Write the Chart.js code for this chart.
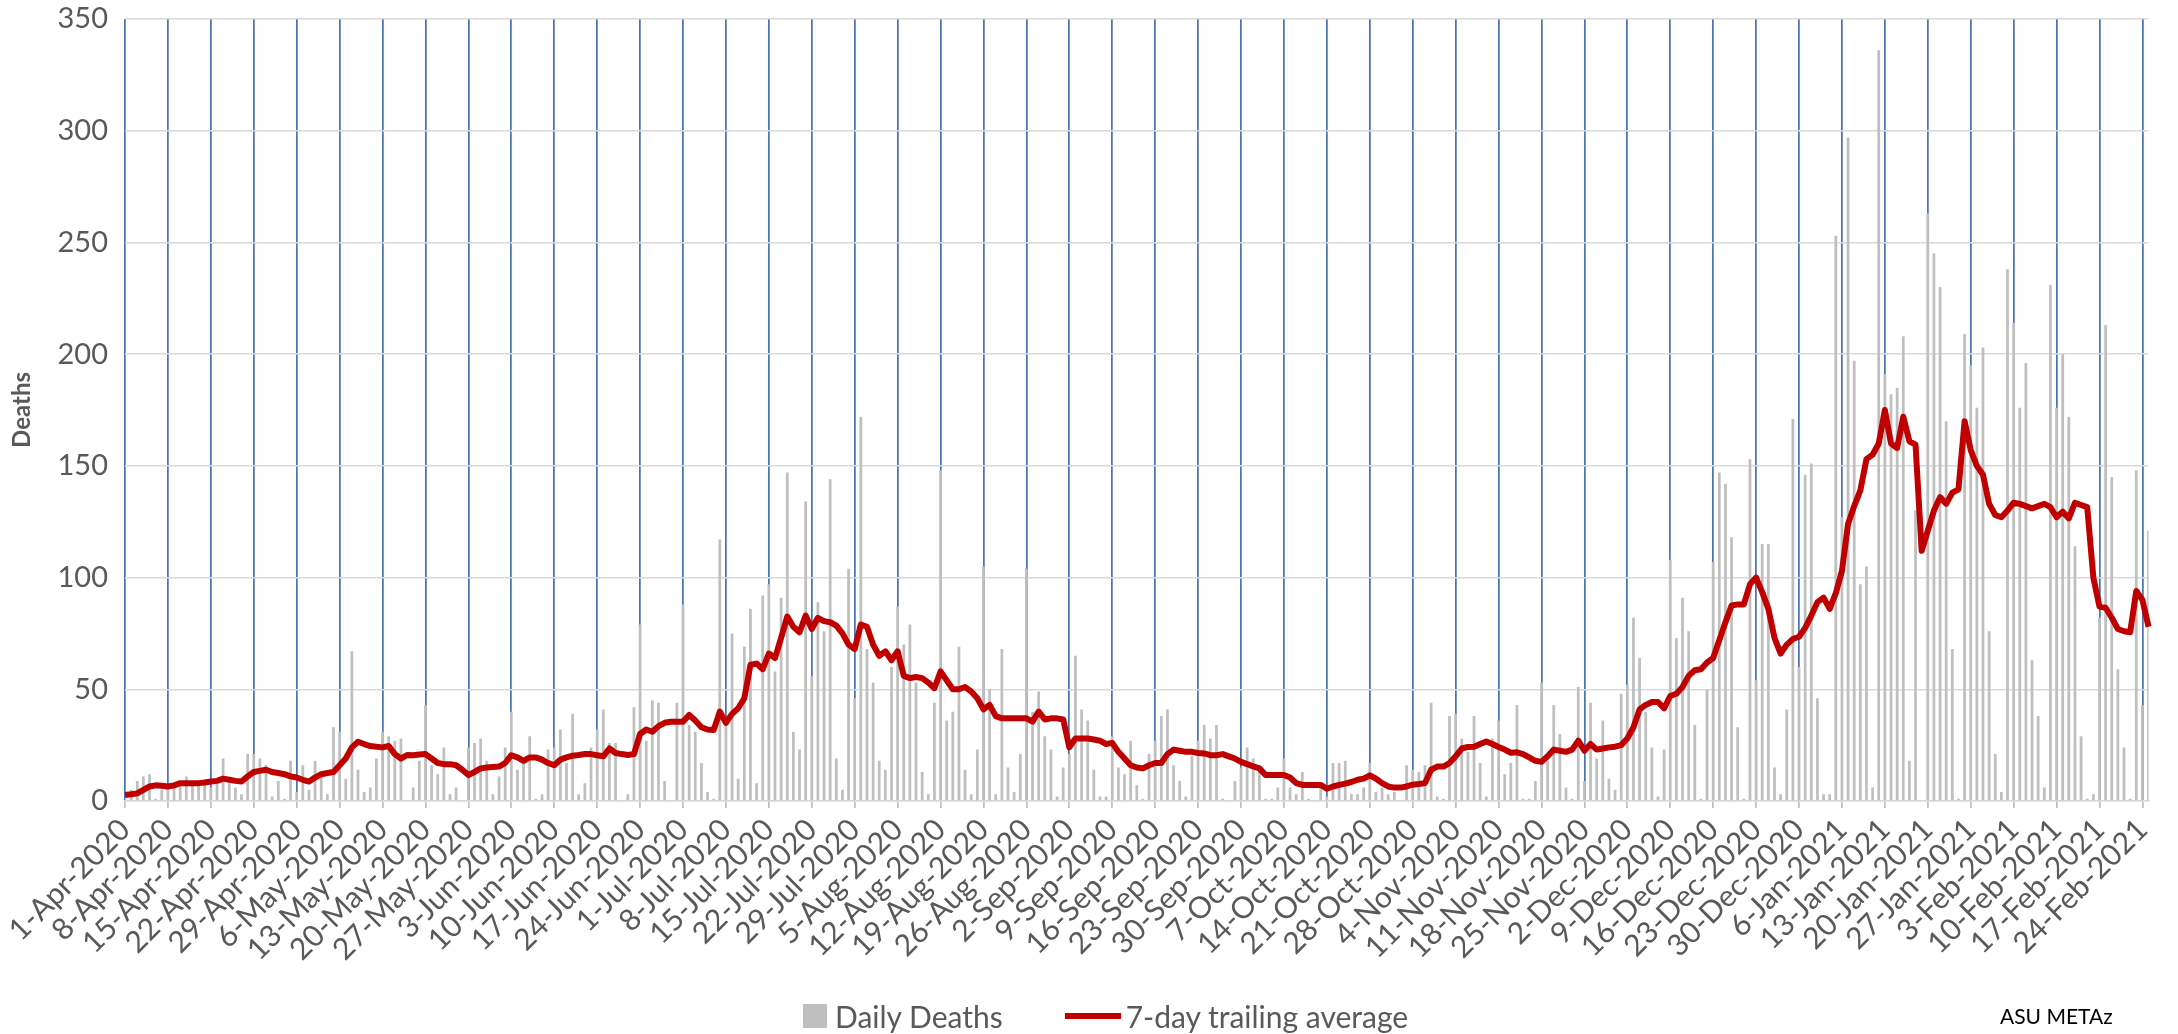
<!DOCTYPE html>
<html>
<head>
<meta charset="utf-8">
<title>Daily Deaths</title>
<script src="https://cdn.jsdelivr.net/npm/chart.js@4.4.1/dist/chart.umd.min.js"></script>
<style>
  html, body { margin: 0; padding: 0; background: #fff; }
  #wrap { position: relative; width: 2178px; height: 1034px; }
  .legend { position: absolute; top: 996px; left: 803px; height: 40px; display: flex; align-items: center;
            font: 30px Lato, sans-serif; color: #595959; white-space: nowrap; }
  .swatch-bar { width: 24px; height: 24px; background: #bfbfbf; margin-right: 8px; }
  .swatch-line { width: 56px; height: 6px; background: #c00000; margin: 0 5px 0 62px; }
  #credit { position: absolute; left: 2000px; top: 1003px; font: 21px Lato, sans-serif; color: #000; }
</style>
</head>
<body>
<div id="wrap">
  <canvas id="chart-1"></canvas>
  <div class="legend">
    <span class="swatch-bar"></span><span>Daily Deaths</span>
    <span class="swatch-line"></span><span>7-day trailing average</span>
  </div>
  <div id="credit">ASU METAz</div>
</div>
<script>
// series start 1-Apr-2020, one value per day
const startYear = 2020, startMonth = 3, startDay = 1;
const monthNames = ['Jan','Feb','Mar','Apr','May','Jun','Jul','Aug','Sep','Oct','Nov','Dec'];

const dailyDeaths = [
  3, 5, 9, 11, 12, 1, 5, 6, 8, 9, 11, 8, 9, 8, 6, 8, 19, 8, 6, 3,
  21, 21, 19, 16, 2, 9, 1, 18, 4, 16, 5, 18, 11, 3, 33, 31, 10, 67, 14, 4,
  6, 19, 31, 29, 27, 28, 0, 6, 18, 43, 16, 12, 24, 3, 6, 0, 24, 26, 28, 18,
  3, 11, 24, 40, 14, 18, 29, 1, 3, 23, 24, 32, 17, 39, 3, 8, 24, 32, 41, 26,
  26, 0, 3, 42, 79, 27, 45, 44, 9, 0, 44, 88, 34, 31, 17, 4, 1, 117, 34, 75,
  10, 69, 86, 8, 92, 97, 58, 91, 147, 31, 23, 134, 56, 89, 76, 144, 19, 5, 104, 46,
  172, 68, 53, 18, 14, 60, 87, 70, 79, 53, 13, 3, 44, 148, 36, 40, 69, 14, 3, 23,
  105, 50, 3, 68, 15, 4, 21, 104, 40, 49, 29, 23, 2, 15, 21, 65, 41, 36, 14, 2,
  2, 29, 15, 12, 27, 7, 1, 21, 27, 38, 41, 16, 9, 2, 20, 27, 34, 28, 34, 1,
  0, 9, 15, 24, 19, 13, 1, 1, 6, 19, 6, 3, 13, 1, 0, 6, 2, 17, 17, 18,
  3, 3, 6, 17, 4, 6, 3, 4, 0, 16, 14, 13, 16, 44, 2, 1, 38, 39, 28, 22,
  38, 17, 2, 28, 36, 12, 17, 43, 1, 1, 9, 53, 18, 43, 30, 6, 1, 51, 9, 44,
  19, 36, 10, 5, 48, 52, 82, 64, 40, 24, 2, 23, 108, 73, 91, 76, 34, 1, 50, 107,
  147, 142, 118, 33, 1, 153, 54, 115, 115, 15, 3, 41, 171, 60, 146, 151, 46, 3, 3, 253,
  127, 297, 197, 97, 105, 6, 336, 191, 182, 185, 208, 18, 130, 0, 263, 245, 230, 170, 68, 1,
  209, 195, 176, 203, 76, 21, 4, 238, 214, 176, 196, 63, 38, 6, 231, 176, 200, 172, 114, 29,
  1, 3, 82, 213, 145, 59, 24, 1, 148, 43, 121
];

const trailingAvg = [
  2.7, 3, 3.4, 5, 6.5, 7, 6.8, 6.5, 7, 8, 8, 8, 8, 8.3, 8.7, 9, 10, 9.5, 9, 8.7,
  11, 13, 13.5, 14, 13, 12.5, 12, 11, 10.5, 9.5, 8.7, 10.5, 12, 12.5, 13, 16, 19, 24, 26.5, 25.5,
  24.6, 24.3, 24, 24.6, 21, 19, 20.6, 20.5, 20.8, 21, 19, 17, 16.5, 16.5, 16, 14, 11.6, 13, 14.6, 15,
  15.2, 15.4, 17, 20.5, 19.5, 18, 19.5, 19.5, 18.5, 17, 16, 18.5, 19.5, 20.3, 20.6, 21, 21, 20.5, 20, 23.5,
  21.5, 21, 20.6, 21, 30, 32, 31, 33.5, 35, 35.5, 35.5, 35.5, 38.5, 36, 33, 32, 31.8, 40, 35, 39,
  41.5, 46, 61, 61.5, 59, 66, 64, 73, 82.5, 78, 75.5, 83, 77, 82, 80.5, 80, 78.5, 75, 70, 68,
  79, 78, 70, 65, 67, 63, 67, 56, 55, 55.5, 55, 53, 50.5, 58, 54, 50, 50, 51, 49, 46,
  41, 43, 38, 37, 37, 37, 37, 37, 35.5, 40, 36.5, 37, 37, 36.5, 24, 28, 28, 28, 27.5, 27,
  25.5, 26, 22, 19, 16, 15, 14.6, 16, 17, 17, 21, 23, 22.5, 22, 22, 21.5, 21.3, 20.5, 20.5, 21,
  20, 19, 17.5, 16.5, 15.5, 14.6, 11.6, 11.6, 11.6, 11.6, 10.5, 8, 7.2, 7.2, 7.2, 7.2, 5.5, 6.5, 7.2, 7.8,
  8.5, 9.5, 10, 11.5, 10, 8, 6.5, 6, 6, 6.5, 7.3, 7.6, 8, 14, 15.4, 15.4, 17, 20, 23.5, 24.2,
  24.3, 25.5, 26.6, 25.5, 24.2, 23, 21.6, 21.8, 21, 19.5, 18, 17.5, 20, 23, 22.5, 22, 23, 27, 22.5, 25.5,
  23, 23.5, 24, 24.3, 25, 28, 33, 41, 43, 44.3, 44.3, 41.5, 47, 48, 51, 56, 58.5, 59, 62, 64,
  72, 80, 87.5, 88, 88, 97, 100, 93.5, 86, 73, 66, 70, 72.5, 73.5, 77.5, 83, 89, 91, 86, 93,
  103, 124, 132, 139, 153, 155, 160, 175, 160, 158, 172, 161, 159.5, 112, 121, 130, 136, 133, 138, 139.5,
  170, 157, 150, 146, 133, 128, 127, 130, 133.5, 133, 132, 131, 132, 133, 131.5, 127, 129.5, 126.5, 133.5, 132.5,
  131.5, 100, 87, 86.5, 82, 77, 76, 75.5, 94, 90, 78
];

const yTicks = [0, 50, 100, 150, 200, 250, 300, 350];

const dayLabels = dailyDeaths.map((_, i) => {
  const d = new Date(Date.UTC(startYear, startMonth, startDay + i));
  return d.getUTCDate() + '-' + monthNames[d.getUTCMonth()] + '-' + d.getUTCFullYear();
});

const gridBlue = '#4a74b9';
const textGrey = '#595959';
Chart.defaults.font.family = 'Lato, sans-serif';
Chart.defaults.color = textGrey;

const ctx = document.getElementById('chart-1').getContext('2d');
const myChart = new Chart(ctx, {
  data: {
    labels: dayLabels,
    datasets: [
      {
        type: 'line',
        label: '7-day trailing average',
        data: trailingAvg,
        borderColor: '#c00000',
        borderWidth: 6,
        borderJoinStyle: 'round',
        pointRadius: 0,
        tension: 0,
        order: 0
      },
      {
        type: 'bar',
        label: 'Daily Deaths',
        data: dailyDeaths,
        backgroundColor: '#bfbfbf',
        barPercentage: 0.45,
        categoryPercentage: 1,
        order: 1
      }
    ]
  },
  options: {
    responsive: true,
    maintainAspectRatio: false,
    animation: false,
    layout: { padding: { left: 0, top: 0, right: 2, bottom: 0 } },
    plugins: {
      legend: { display: false },
      tooltip: { enabled: false }
    },
    scales: {
      x: {
        type: 'category',
        offset: false,
        grid: {
          offset: false,
          color: (c) => (c.index % 7 === 0 ? gridBlue : 'rgba(0,0,0,0)'),
          lineWidth: 1.75,
          tickLength: 7,
          tickColor: (c) => (c.index % 7 === 0 ? '#bfbfbf' : 'rgba(0,0,0,0)')
        },
        border: { color: '#d9d9d9', width: 1.5 },
        ticks: {
          autoSkip: false,
          minRotation: 45,
          maxRotation: 45,
          padding: 4,
          font: { size: 30 },
          color: textGrey,
          callback: function (value, index) {
            return index % 7 === 0 ? this.getLabelForValue(value) : '';
          }
        },
        afterFit: (scale) => { scale.height = 233; }
      },
      y: {
        min: 0,
        max: 350,
        afterBuildTicks: (scale) => { scale.ticks = yTicks.map(v => ({ value: v })); },
        grid: { color: '#d9d9d9', lineWidth: 1.5, drawTicks: false },
        border: { display: false },
        ticks: { padding: 17, font: { size: 29 }, color: textGrey },
        title: {
          display: true,
          text: 'Deaths',
          color: textGrey,
          font: { size: 24, weight: 'bold' },
          padding: { top: 8, bottom: 0 }
        },
        afterFit: (scale) => {
          scale.width = 125;
          scale.paddingTop = 19;
          scale.paddingBottom = 0;
        }
      }
    }
  }
});
</script>
</body>
</html>
